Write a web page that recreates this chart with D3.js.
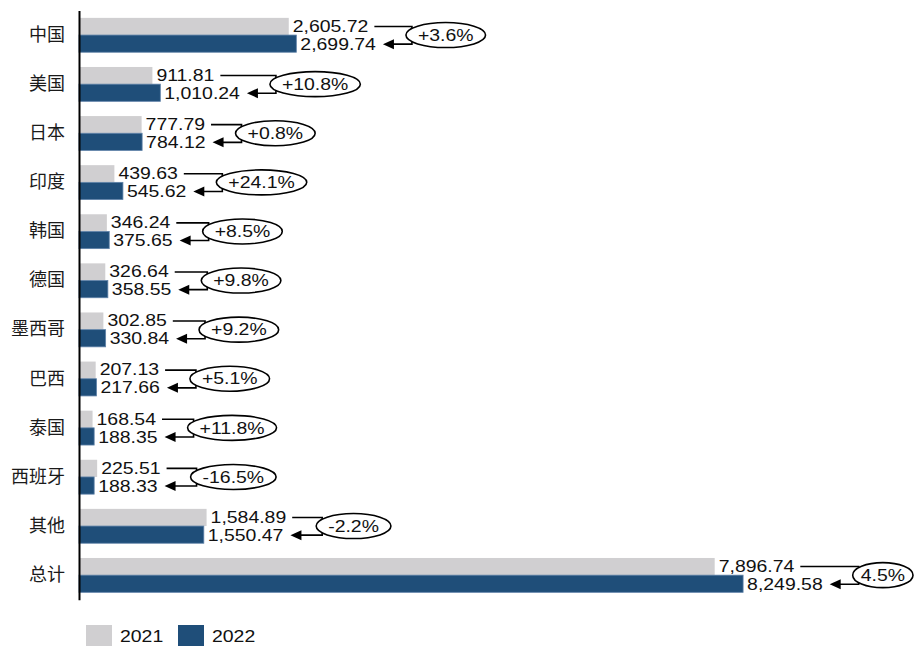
<!DOCTYPE html>
<html>
<head>
<meta charset="utf-8">
<script src="https://cdn.jsdelivr.net/npm/d3@7"></script>
<style>
  html, body { margin: 0; padding: 0; background: #fff; }
  svg { display: block; }
</style>
</head>
<body>
<svg id="chart" width="918" height="646"></svg>
<script>
// Categories (top to bottom)
const categories = ["中国", "美国", "日本", "印度", "韩国", "德国", "墨西哥", "巴西", "泰国", "西班牙", "其他", "总计"];
// Series values
const values2021 = [2605.72, 911.81, 777.79, 439.63, 346.24, 326.64, 302.85, 207.13, 168.54, 225.51, 1584.89, 7896.74];
const values2022 = [2699.74, 1010.24, 784.12, 545.62, 375.65, 358.55, 330.84, 217.66, 188.35, 188.33, 1550.47, 8249.58];
// Year-on-year change labels
const changeLabels = ["+3.6%", "+10.8%", "+0.8%", "+24.1%", "+8.5%", "+9.8%", "+9.2%", "+5.1%", "+11.8%", "-16.5%", "-2.2%", "4.5%"];
const seriesNames = ["2021", "2022"];

const colors = { "2021": "#d0cfd1", "2022": "#1f4e79" };
const numFont = "'Liberation Sans', Arial, sans-serif";
const cjkFont = "'Noto Sans CJK SC', sans-serif";
const sx = 1.2;       // horizontal stretch of label glyphs
const fs = 16.2;

const svg = d3.select("#chart");

const x = d3.scaleLinear().domain([0, 10000]).range([79, 79 + 805]);
const y = d3.scaleBand().domain(categories).range([10.5, 599.7]).paddingInner(0.3).paddingOuter(0.15);
const ySub = d3.scaleBand().domain(seriesNames).range([0, y.bandwidth()]);

const rows = categories.map((c, i) => ({
  cat: c, v: { "2021": values2021[i], "2022": values2022[i] }, change: changeLabels[i]
}));

// Bars
const g = svg.append("g");
rows.forEach(r => {
  seriesNames.forEach(s => {
    g.append("rect")
      .attr("x", x(0))
      .attr("y", y(r.cat) + ySub(s))
      .attr("width", x(r.v[s]) - x(0))
      .attr("height", ySub.bandwidth())
      .attr("fill", colors[s])
      .attr("stroke", s === "2022" ? "#5f82a8" : "none")
      .attr("stroke-width", s === "2022" ? 0.8 : 0);
  });
});

// Category axis
const axis = svg.append("g")
  .attr("transform", `translate(${x(0)},0)`)
  .call(d3.axisLeft(y).tickSize(0).tickPadding(14));
axis.select(".domain").attr("stroke", "#000").attr("stroke-width", 2);
axis.selectAll(".tick text")
  .attr("font-family", cjkFont)
  .attr("font-size", 18)
  .attr("fill", "#1a1a1a");

const fmt = d3.format(",.2f");

function scaledText(parent, tx, ty, str, anchor) {
  return parent.append("text")
    .attr("transform", `translate(${tx},${ty}) scale(${sx},1)`)
    .attr("dy", "0.35em")
    .attr("font-family", numFont)
    .attr("font-size", fs)
    .attr("fill", "#111")
    .attr("text-anchor", anchor || "start")
    .text(str);
}

const ann = svg.append("g");
rows.forEach(r => {
  const c = y(r.cat) + y.bandwidth() / 2;
  const end1 = x(r.v["2021"]), end2 = x(r.v["2022"]);
  const t1 = scaledText(ann, end1 + 4, c - 9, fmt(r.v["2021"]));
  const t2 = scaledText(ann, end2 + 4, c + 9, fmt(r.v["2022"]));
  const e1 = end1 + 4 + t1.node().getComputedTextLength() * sx;
  const e2 = end2 + 4 + t2.node().getComputedTextLength() * sx;
  const y1 = ySub.bandwidth() / 2 + y(r.cat);
  const y2 = y(r.cat) + ySub("2022") + ySub.bandwidth() / 2 + 0.5;
  const xb = Math.max(e1, e2) + 36;
  const tip = e2 + 7;

  ann.append("path")
    .attr("d", `M${e1 + 6},${y1}H${xb}V${y2}H${tip + 9}`)
    .attr("fill", "none")
    .attr("stroke", "#000")
    .attr("stroke-width", 1.6);
  ann.append("path")
    .attr("d", `M${tip},${y2}L${tip + 11},${y2 - 5}L${tip + 11},${y2 + 5}Z`)
    .attr("fill", "#000");

  // Change bubble
  const probe = scaledText(ann, 0, 0, r.change, "middle");
  const tw = probe.node().getComputedTextLength() * sx;
  probe.remove();
  const left = xb - 6;
  const rx = Math.min(tw / 2 + 12, (913 - left) / 2);
  const cx = left + rx;
  ann.append("ellipse")
    .attr("cx", cx).attr("cy", c)
    .attr("rx", rx).attr("ry", 12.5)
    .attr("fill", "#fff")
    .attr("stroke", "#000")
    .attr("stroke-width", 1.6);
  scaledText(ann, cx, c, r.change, "middle");
});

// Legend
const legend = svg.append("g");
const legendX = [86, 178];
seriesNames.forEach((s, i) => {
  legend.append("rect")
    .attr("x", legendX[i]).attr("y", 625)
    .attr("width", 26).attr("height", 22)
    .attr("fill", colors[s]);
  scaledText(legend, legendX[i] + 34, 636, s);
});
</script>
</body>
</html>
